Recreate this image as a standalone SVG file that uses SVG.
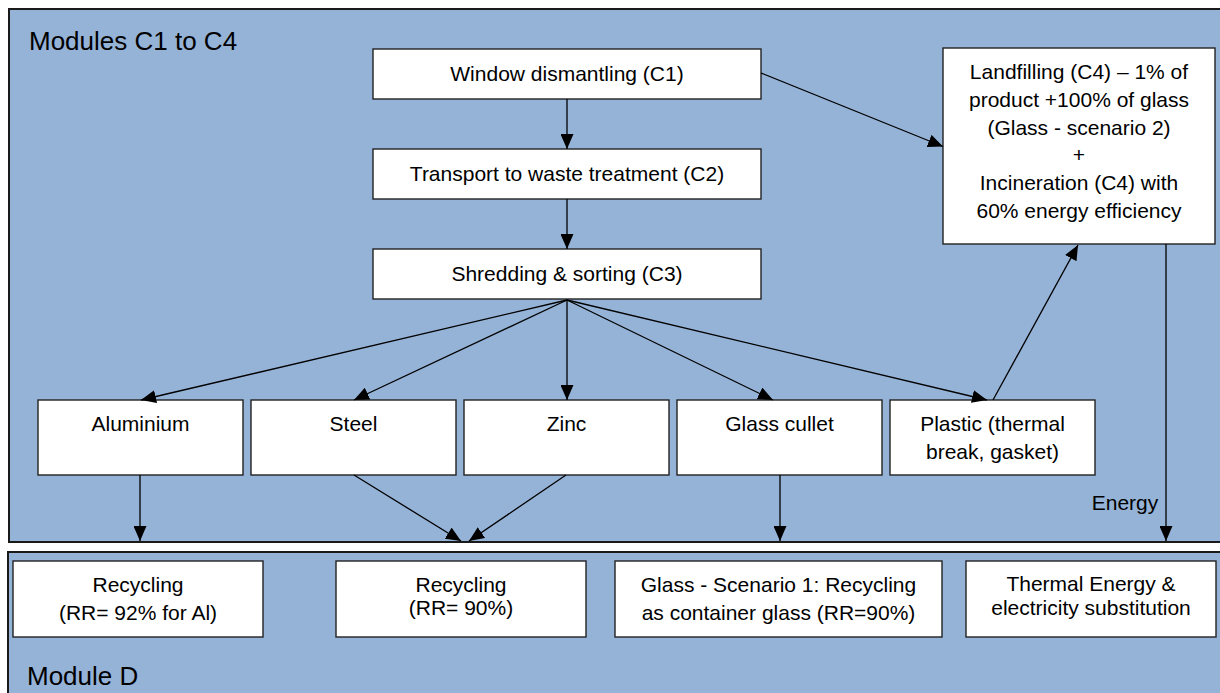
<svg xmlns="http://www.w3.org/2000/svg" width="1220" height="693" viewBox="0 0 1220 693">
<defs>
<marker id="ah" markerUnits="userSpaceOnUse" markerWidth="15" markerHeight="13" refX="15" refY="6.5" orient="auto">
<path d="M0,0 L15,6.5 L0,13 z" fill="#000"/>
</marker>
<style>
.panel{fill:#95B3D7;stroke:#1a1a1a;stroke-width:2}
.box{fill:#fff;stroke:#222;stroke-width:1.4}
.t{font-family:"Liberation Sans",Arial,sans-serif;font-size:21px;fill:#000;text-anchor:middle}
.big{font-family:"Liberation Sans",Arial,sans-serif;font-size:26px;fill:#000}
.c{stroke:#000;stroke-width:1.3;fill:none;marker-end:url(#ah)}
</style>
</defs>
<rect width="1220" height="693" fill="#fff"/>
<g id="panel-c">
<rect class="panel" x="9" y="9" width="1216" height="533"/>
<text class="big" x="29" y="50">Modules C1 to C4</text>
</g>
<g id="panel-d">
<rect class="panel" x="8" y="552" width="1220" height="150"/>
<text class="big" x="27" y="685">Module D</text>
</g>
<g id="n-window">
<rect class="box" x="373" y="49" width="388" height="50"/>
<text class="t" x="567" y="81">Window dismantling (C1)</text>
</g>
<g id="n-transport">
<rect class="box" x="373" y="149" width="388" height="50"/>
<text class="t" x="567" y="181">Transport to waste treatment (C2)</text>
</g>
<g id="n-shredding">
<rect class="box" x="373" y="249" width="388" height="50"/>
<text class="t" x="567" y="281">Shredding &amp; sorting (C3)</text>
</g>
<g id="n-landfill">
<rect class="box" x="943" y="48" width="272" height="196"/>
<text class="t" x="1079" y="79">Landfilling (C4) – 1% of</text>
<text class="t" x="1079" y="107">product +100% of glass</text>
<text class="t" x="1079" y="134.5">(Glass - scenario 2)</text>
<text class="t" x="1079" y="162">+</text>
<text class="t" x="1079" y="190">Incineration (C4) with</text>
<text class="t" x="1079" y="218">60% energy efficiency</text>
</g>
<g id="n-aluminium">
<rect class="box" x="38" y="400" width="205" height="75"/>
<text class="t" x="140.5" y="431">Aluminium</text>
</g>
<g id="n-steel">
<rect class="box" x="251" y="400" width="205" height="75"/>
<text class="t" x="353.5" y="431">Steel</text>
</g>
<g id="n-zinc">
<rect class="box" x="464" y="400" width="205" height="75"/>
<text class="t" x="566.5" y="431">Zinc</text>
</g>
<g id="n-glass">
<rect class="box" x="677" y="400" width="205" height="75"/>
<text class="t" x="779.5" y="431">Glass cullet</text>
</g>
<g id="n-plastic">
<rect class="box" x="890" y="400" width="205" height="75"/>
<text class="t" x="992.5" y="431">Plastic (thermal</text>
<text class="t" x="992.5" y="458.5">break, gasket)</text>
</g>
<g id="n-rec1">
<rect class="box" x="13" y="561" width="250" height="76"/>
<text class="t" x="138" y="592">Recycling</text>
<text class="t" x="138" y="619.5">(RR= 92% for Al)</text>
</g>
<g id="n-rec2">
<rect class="box" x="336" y="561" width="250" height="76"/>
<text class="t" x="461" y="592">Recycling</text>
<text class="t" x="461" y="615">(RR= 90%)</text>
</g>
<g id="n-rec3">
<rect class="box" x="615" y="561" width="327" height="76"/>
<text class="t" x="778.5" y="592">Glass - Scenario 1: Recycling</text>
<text class="t" x="778.5" y="619.5">as container glass (RR=90%)</text>
</g>
<g id="n-thermal">
<rect class="box" x="966" y="561" width="250" height="76"/>
<text class="t" x="1091" y="591">Thermal Energy &amp;</text>
<text class="t" x="1091" y="615">electricity substitution</text>
</g>
<g id="connectors">
<line class="c" x1="567" y1="99" x2="567" y2="149"/>
<line class="c" x1="567" y1="199" x2="567" y2="249"/>
<line class="c" x1="761" y1="73" x2="943" y2="146.5"/>
<line class="c" x1="567" y1="300" x2="141" y2="400"/>
<line class="c" x1="567" y1="300" x2="354" y2="400"/>
<line class="c" x1="567" y1="300" x2="567" y2="400"/>
<line class="c" x1="567" y1="300" x2="773" y2="400"/>
<line class="c" x1="567" y1="300" x2="987" y2="400"/>
<line class="c" x1="993" y1="400" x2="1078" y2="245"/>
<line class="c" x1="1166" y1="244" x2="1166" y2="541"/>
<line class="c" x1="140" y1="475" x2="140" y2="541"/>
<line class="c" x1="354" y1="475" x2="461" y2="541"/>
<line class="c" x1="566" y1="475" x2="469" y2="541"/>
<line class="c" x1="780" y1="475" x2="780" y2="541"/>
<text class="t" x="1125" y="510">Energy</text>
</g>
</svg>
